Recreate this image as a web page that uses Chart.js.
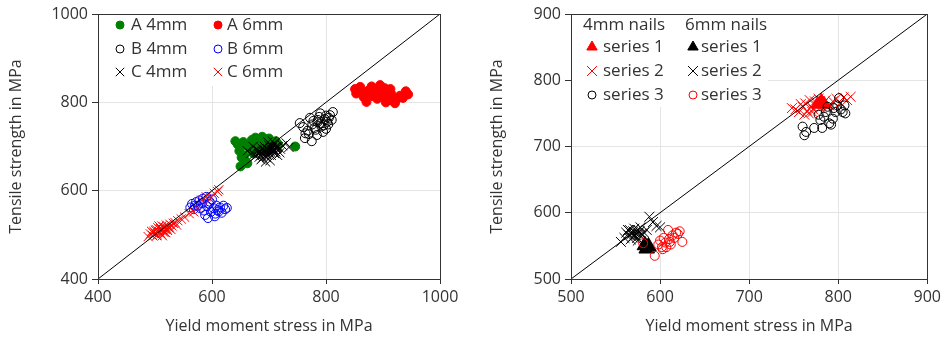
<!DOCTYPE html>
<html>
<head>
<meta charset="utf-8">
<script src="https://cdn.jsdelivr.net/npm/chart.js@4/dist/chart.umd.min.js"></script>
<style>
  body { margin: 0; background: #fff; }
  canvas { position: absolute; top: 0; }
  #left { left: 0; }
  #right { left: 475px; }
</style>
</head>
<body>
<canvas id="left" width="470" height="338"></canvas>
<canvas id="right" width="470" height="338"></canvas>
<script>
// left chart: nail types A, B, C, 4mm and 6mm
const a4x = [641, 645, 650, 655, 660, 648, 652, 658, 665, 670, 676, 682, 688, 694, 700, 706, 712, 716, 668, 674, 680, 690, 698, 656, 650, 662, 672, 684, 746];
const a4y = [712, 705, 700, 710, 703, 690, 675, 668, 698, 715, 720, 712, 722, 716, 718, 710, 712, 705, 695, 690, 705, 700, 690, 680, 655, 662, 685, 695, 700];
const a6x = [851, 853, 860, 866, 871, 876, 880, 885, 888, 892, 895, 898, 900, 903, 906, 910, 912, 915, 918, 921, 925, 930, 935, 940, 944, 882, 890, 897, 905, 913, 870, 862];
const a6y = [830, 820, 835, 812, 801, 828, 836, 822, 830, 816, 839, 826, 812, 832, 820, 828, 805, 818, 810, 798, 808, 815, 810, 825, 818, 814, 808, 822, 800, 830, 824, 826];
const b4x = [754, 760, 763, 768, 772, 776, 780, 784, 786, 788, 790, 792, 795, 798, 800, 802, 805, 807, 810, 812, 770, 778, 782, 790, 796, 800, 764, 775, 785, 804];
const b4y = [753, 744, 719, 736, 765, 750, 742, 726, 760, 767, 752, 745, 733, 762, 770, 756, 765, 771, 760, 778, 728, 758, 738, 775, 748, 740, 730, 712, 755, 750];
const b6x = [562, 565, 568, 572, 575, 578, 580, 583, 586, 590, 591, 593, 596, 598, 600, 603, 606, 608, 610, 614, 617, 620, 623, 626, 588, 595, 605, 612, 570, 584];
const b6y = [562, 570, 558, 574, 566, 578, 560, 572, 555, 586, 565, 538, 575, 552, 580, 560, 548, 566, 556, 562, 550, 566, 558, 561, 545, 570, 542, 553, 566, 582];
const c4x = [662, 668, 672, 676, 680, 684, 688, 690, 692, 694, 696, 698, 700, 700, 702, 704, 706, 708, 710, 712, 714, 716, 720, 724, 730, 735, 686, 694, 702, 710,
  678, 698, 706, 690, 715, 682, 686, 691, 695, 699, 703, 707, 711, 697, 701, 705, 693, 689, 709, 713, 683, 719, 674];
const c4y = [690, 684, 700, 678, 692, 688, 696, 682, 700, 690, 675, 694, 686, 702, 690, 680, 698, 692, 706, 688, 696, 700, 694, 702, 708, 698, 670, 665, 668, 684,
  694, 710, 712, 688, 680, 684, 680, 692, 686, 690, 694, 688, 698, 680, 684, 702, 678, 674, 690, 700, 676, 686, 682];
const c6x = [488, 492, 496, 498, 500, 502, 504, 505, 506, 508, 510, 511, 512, 514, 515, 516, 518, 520, 522, 524, 526, 530, 535, 540, 546, 552, 560, 568, 575, 582,
  590, 598, 604, 610, 612, 507, 513, 519, 497, 501, 503, 509, 517, 521, 525, 528, 494, 532, 538];
const c6y = [496, 502, 498, 508, 504, 512, 500, 516, 508, 506, 514, 502, 520, 510, 506, 518, 512, 522, 510, 516, 524, 520, 528, 532, 536, 540, 548, 552, 560, 578,
  586, 584, 594, 598, 602, 520, 498, 505, 504, 510, 498, 512, 506, 514, 518, 512, 508, 526, 522];

// right chart: series 1-3 for 4mm and 6mm nails
const s1_4x = [777, 781, 784];
const s1_4y = [764, 768, 764];
const s2_4x = [752, 756, 760, 763, 765, 767, 768, 770, 772, 774, 776, 778, 780, 783, 786, 790, 794, 798, 802, 806, 810, 814, 762, 771, 788, 748, 758];
const s2_4y = [756, 752, 760, 765, 754, 750, 770, 760, 756, 768, 762, 772, 758, 765, 770, 762, 768, 772, 766, 774, 770, 775, 748, 752, 760, 758, 764];
const s3_4x = [760, 762, 764, 773, 778, 782, 784, 786, 790, 792, 795, 797, 799, 801, 803, 805, 807, 808, 780, 794, 788];
const s3_4y = [730, 717, 722, 728, 748, 728, 745, 752, 735, 733, 758, 752, 762, 773, 756, 752, 762, 750, 740, 742, 760];
const s1_6x = [583, 587, 585];
const s1_6y = [551, 549, 546];
const s2_6x = [556, 560, 562, 565, 566, 568, 569, 570, 571, 572, 573, 574, 575, 576, 577, 578, 580, 582, 585, 588, 592, 596, 600, 567, 571, 575, 579, 564];
const s2_6y = [556, 562, 570, 566, 574, 568, 563, 572, 576, 566, 570, 562, 574, 568, 572, 578, 566, 570, 574, 594, 586, 580, 578, 560, 565, 558, 568, 574];
const s3_6x = [581, 594, 598, 600, 602, 604, 606, 607, 609, 610, 612, 614, 616, 618, 620, 622, 625, 603, 611];
const s3_6y = [554, 535, 552, 558, 548, 562, 555, 548, 574, 560, 552, 566, 562, 570, 568, 572, 556, 545, 556];

const leftTicks = [400, 600, 800, 1000];
const rightTicks = [500, 600, 700, 800, 900];

const FONT = '"Open Sans", "Noto Sans", sans-serif';
const TXT = '#333';

function pts(xs, ys) {
  return xs.map((x, i) => ({ x: x, y: ys[i] }));
}

// later series are drawn on top, like in the original
function series(i, label, xs, ys, style, color, filled, r) {
  return {
    label: label,
    order: -i,
    data: pts(xs, ys),
    pointStyle: style,
    pointRadius: r,
    pointHoverRadius: r,
    pointBorderColor: color,
    pointBackgroundColor: filled ? color : 'rgba(0,0,0,0)',
    pointBorderWidth: 1,
    showLine: false
  };
}

function diagonal(lo, hi) {
  return {
    type: 'line',
    order: -20,
    data: [{ x: lo, y: lo }, { x: hi, y: hi }],
    borderColor: '#000',
    borderWidth: 1,
    pointRadius: 0,
    fill: false
  };
}

function mark(ctx, style, x, y, r, fill, stroke) {
  ctx.beginPath();
  if (style === 'circle') {
    ctx.arc(x, y, r, 0, Math.PI * 2);
  } else if (style === 'triangle') {
    ctx.moveTo(x, y - r);
    ctx.lineTo(x + r * 0.866, y + r * 0.5);
    ctx.lineTo(x - r * 0.866, y + r * 0.5);
    ctx.closePath();
  } else {
    const d = r * 0.7071;
    ctx.moveTo(x - d, y - d); ctx.lineTo(x + d, y + d);
    ctx.moveTo(x + d, y - d); ctx.lineTo(x - d, y + d);
  }
  ctx.fillStyle = fill;
  ctx.strokeStyle = stroke;
  ctx.lineWidth = 1;
  if (style !== 'crossRot') ctx.fill();
  ctx.stroke();
}

// white legend box in the top-left corner, plus the frame round the plot
const legendBox = {
  id: 'legendBox',
  beforeDatasetsDraw(chart, args, opts) {
    const ctx = chart.ctx, a = chart.chartArea;
    ctx.save();
    ctx.fillStyle = '#fff';
    ctx.fillRect(a.left + 1, a.top + 1, opts.w, opts.h);
    ctx.font = '17px ' + FONT;
    ctx.textBaseline = 'middle';
    ctx.fillStyle = TXT;
    (opts.headers || []).forEach(h => ctx.fillText(h.text, a.left + h.x, a.top + h.y));
    opts.items.forEach(it => {
      const ds = chart.data.datasets[it.ds];
      mark(ctx, ds.pointStyle, a.left + it.mx, a.top + it.y, it.r,
        ds.pointBackgroundColor, ds.pointBorderColor);
      ctx.fillStyle = TXT;
      ctx.fillText(ds.label, a.left + it.tx, a.top + it.y);
    });
    ctx.restore();
  },
  afterDraw(chart) {
    const ctx = chart.ctx, a = chart.chartArea;
    ctx.save();
    ctx.strokeStyle = '#333';
    ctx.lineWidth = 1;
    ctx.strokeRect(Math.round(a.left) + 0.5, Math.round(a.top) + 0.5,
      Math.round(a.right - a.left), Math.round(a.bottom - a.top));
    ctx.restore();
  }
};

function axis(min, max, ticks, title, isX, titlePad) {
  return {
    type: 'linear',
    min: min,
    max: max,
    afterBuildTicks: s => { s.ticks = ticks.map(v => ({ value: v })); },
    afterFit: isX ? (s => { s.height = 59; }) : (s => { s.width = titlePad.w; }),
    ticks: {
      font: { family: FONT, size: 16 }, color: TXT, padding: isX ? 4 : 4,
      callback: v => String(v)
    },
    grid: { color: '#e4e4e4', tickLength: isX ? 5 : 6, tickColor: '#333' },
    border: { color: '#333', width: 1 },
    title: {
      display: true, text: title, color: TXT,
      font: { family: FONT, size: 16 },
      padding: isX ? { top: 0, bottom: 2 } : { top: titlePad.p, bottom: 0 }
    }
  };
}

function makeChart(id, datasets, xr, yr, ticks, yw, yp, padRight, legend) {
  return new Chart(document.getElementById(id), {
    type: 'scatter',
    data: { datasets: datasets },
    options: {
      responsive: false,
      animation: false,
      layout: { padding: { top: 14, right: padRight, left: 0, bottom: 0 } },
      plugins: { legend: { display: false }, tooltip: { enabled: false }, legendBox: legend },
      scales: {
        x: axis(xr[0], xr[1], ticks, 'Yield moment stress in MPa', true),
        y: axis(yr[0], yr[1], ticks, 'Tensile strength in MPa', false, { w: yw, p: yp })
      }
    },
    plugins: [legendBox]
  });
}

makeChart('left', [
  series(0, 'A 4mm', a4x, a4y, 'circle', '#008000', true, 4.5),
  series(1, 'A 6mm', a6x, a6y, 'circle', '#ff0000', true, 4.5),
  series(2, 'B 4mm', b4x, b4y, 'circle', '#000', false, 4.5),
  series(3, 'B 6mm', b6x, b6y, 'circle', '#0000ff', false, 4.5),
  series(4, 'C 4mm', c4x, c4y, 'crossRot', '#000', false, 6.5),
  series(5, 'C 6mm', c6x, c6y, 'crossRot', '#ff0000', false, 6.5),
  diagonal(400, 1000)
], [400, 1000], [400, 1000], leftTicks, 98, 7, 30, {
  w: 194, h: 71,
  items: [
    { ds: 0, mx: 22, tx: 33, y: 11, r: 4 },
    { ds: 1, mx: 120, tx: 129, y: 11, r: 4 },
    { ds: 2, mx: 22, tx: 33, y: 35, r: 4 },
    { ds: 3, mx: 120, tx: 129, y: 35, r: 4 },
    { ds: 4, mx: 22, tx: 33, y: 58, r: 6 },
    { ds: 5, mx: 120, tx: 129, y: 58, r: 6 }
  ]
});

makeChart('right', [
  series(0, 'series 1', s1_4x, s1_4y, 'triangle', '#ff0000', true, 8),
  series(1, 'series 2', s2_4x, s2_4y, 'crossRot', '#ff0000', false, 7),
  series(2, 'series 3', s3_4x, s3_4y, 'circle', '#000', false, 4.5),
  series(3, 'series 1', s1_6x, s1_6y, 'triangle', '#000', true, 9),
  series(4, 'series 2', s2_6x, s2_6y, 'crossRot', '#000', false, 7),
  series(5, 'series 3', s3_6x, s3_6y, 'circle', '#ff0000', false, 4.5),
  diagonal(500, 900)
], [500, 900], [500, 900], rightTicks, 96, 13, 17, {
  w: 196, h: 92,
  headers: [{ text: '4mm nails', x: 12, y: 11 }, { text: '6mm nails', x: 114, y: 11 }],
  items: [
    { ds: 0, mx: 21, tx: 32, y: 33, r: 6 },
    { ds: 1, mx: 21, tx: 32, y: 57, r: 7 },
    { ds: 2, mx: 21, tx: 32, y: 81, r: 4 },
    { ds: 3, mx: 122, tx: 130, y: 33, r: 6 },
    { ds: 4, mx: 122, tx: 130, y: 57, r: 7 },
    { ds: 5, mx: 122, tx: 130, y: 81, r: 4 }
  ]
});
</script>
</body>
</html>
